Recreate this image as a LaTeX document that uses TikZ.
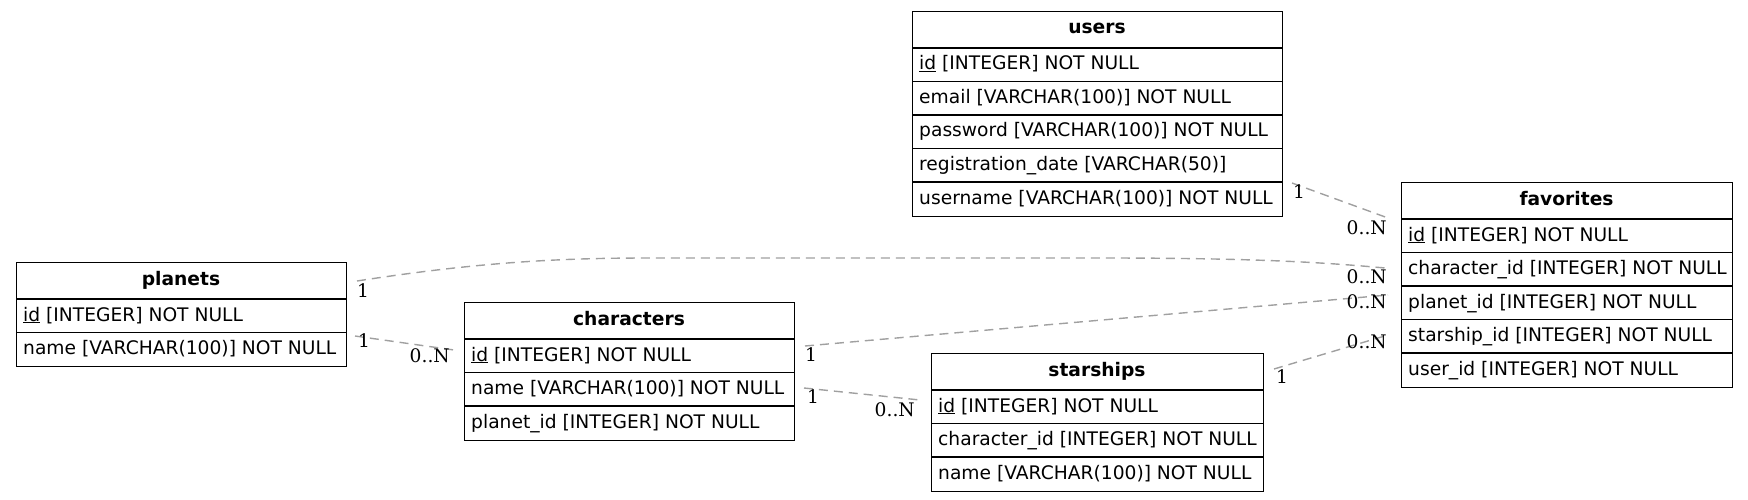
\documentclass[tikz,border=0pt]{standalone}
\usepackage{fontspec}
\setmainfont{DejaVu Sans}
\newfontfamily\lblfont{DejaVu Serif}
\begin{document}
\begin{tikzpicture}[x=1pt,y=-1pt,
  tablebox/.style={draw=black,line width=1.2pt,inner sep=0pt,fill=none},
  tablerule/.style={draw=black,line width=1.2pt},
  tablehead/.style={inner sep=0pt,font=\fontsize{18.67}{22}\selectfont\bfseries},
  tablerow/.style={inner sep=0pt,font=\fontsize{18.67}{22}\selectfont},
  relline/.style={draw={rgb,255:red,160;green,160;blue,160},line width=1.4pt,dash pattern=on 9pt off 6pt},
  card/.style={inner sep=0pt,font=\lblfont\fontsize{18.67}{22}\selectfont}
]
\useasboundingbox (0,0) rectangle (1748,500);
\newcommand\ertable[7]{%
  \node[tablebox,anchor=north west,minimum width={(#4-#2)*1pt},minimum height={(37+33.5*#5)*1pt}] (#1) at (#2,#3) {};
  \node[tablehead,anchor=base] (#1-head) at ({(#2+#4)/2},#3+23) {#6};
  \foreach \r [count=\i] in {#7} {
    \draw[tablerule] (#2,{#3+37+33.5*(\i-1)}) -- (#4,{#3+37+33.5*(\i-1)});
    \node[tablerow,anchor=base west] (#1-row\i) at (#2+7,{#3+37+33.5*(\i-1)+22}) {\r};
  }
}
\ertable{users}{912}{11}{1282}{5}{users}{\underline{id} [INTEGER] NOT NULL,email [VARCHAR(100)] NOT NULL,password [VARCHAR(100)] NOT NULL,registration\_date [VARCHAR(50)],username [VARCHAR(100)] NOT NULL}
\ertable{favorites}{1401}{182}{1732}{5}{favorites}{\underline{id} [INTEGER] NOT NULL,character\_id [INTEGER] NOT NULL,planet\_id [INTEGER] NOT NULL,starship\_id [INTEGER] NOT NULL,user\_id [INTEGER] NOT NULL}
\ertable{planets}{16}{262}{346}{2}{planets}{\underline{id} [INTEGER] NOT NULL,name [VARCHAR(100)] NOT NULL}
\ertable{characters}{464}{302}{794}{3}{characters}{\underline{id} [INTEGER] NOT NULL,name [VARCHAR(100)] NOT NULL,planet\_id [INTEGER] NOT NULL}
\ertable{starships}{931}{353}{1263}{3}{starships}{\underline{id} [INTEGER] NOT NULL,character\_id [INTEGER] NOT NULL,name [VARCHAR(100)] NOT NULL}

% connector end points
\coordinate (u1) at (1292,183);
\coordinate (f1) at (1388,218);
\coordinate (p1) at (357,281);
\coordinate (f2) at (1385,268);
\coordinate (p2) at (355,336);
\coordinate (c1) at (454,350);
\coordinate (c2) at (805,346);
\coordinate (f3) at (1388,295);
\coordinate (c3) at (804,388);
\coordinate (s1) at (920,400);
\coordinate (s2) at (1274,369);
\coordinate (f4) at (1388,335);
\coordinate (k1) at (650,258);
\coordinate (k2) at (1100,258);

\draw[relline] (u1) -- (f1);
\draw[relline] (p1) .. controls (480,262) and (560,258) .. (k1) -- (k2) .. controls (1250,258) and (1320,262) .. (f2);
\draw[relline] (p2) -- (c1);
\draw[relline] (c2) -- (f3);
\draw[relline] (c3) -- (s1);
\draw[relline] (s2) -- (f4);

\node[card,anchor=base west] (l1a) at (1293,198) {1};
\node[card,anchor=base east] (l1b) at (1387,234) {0..N};
\node[card,anchor=base west] (l2a) at (357,297) {1};
\node[card,anchor=base east] (l2b) at (1387,283) {0..N};
\node[card,anchor=base west] (l3a) at (358,347) {1};
\node[card,anchor=base east] (l3b) at (450,362) {0..N};
\node[card,anchor=base west] (l4a) at (805,361) {1};
\node[card,anchor=base east] (l4b) at (1387,308) {0..N};
\node[card,anchor=base west] (l5a) at (807,403) {1};
\node[card,anchor=base east] (l5b) at (915,416) {0..N};
\node[card,anchor=base west] (l6a) at (1276,383) {1};
\node[card,anchor=base east] (l6b) at (1387,348) {0..N};
\end{tikzpicture}
\end{document}
